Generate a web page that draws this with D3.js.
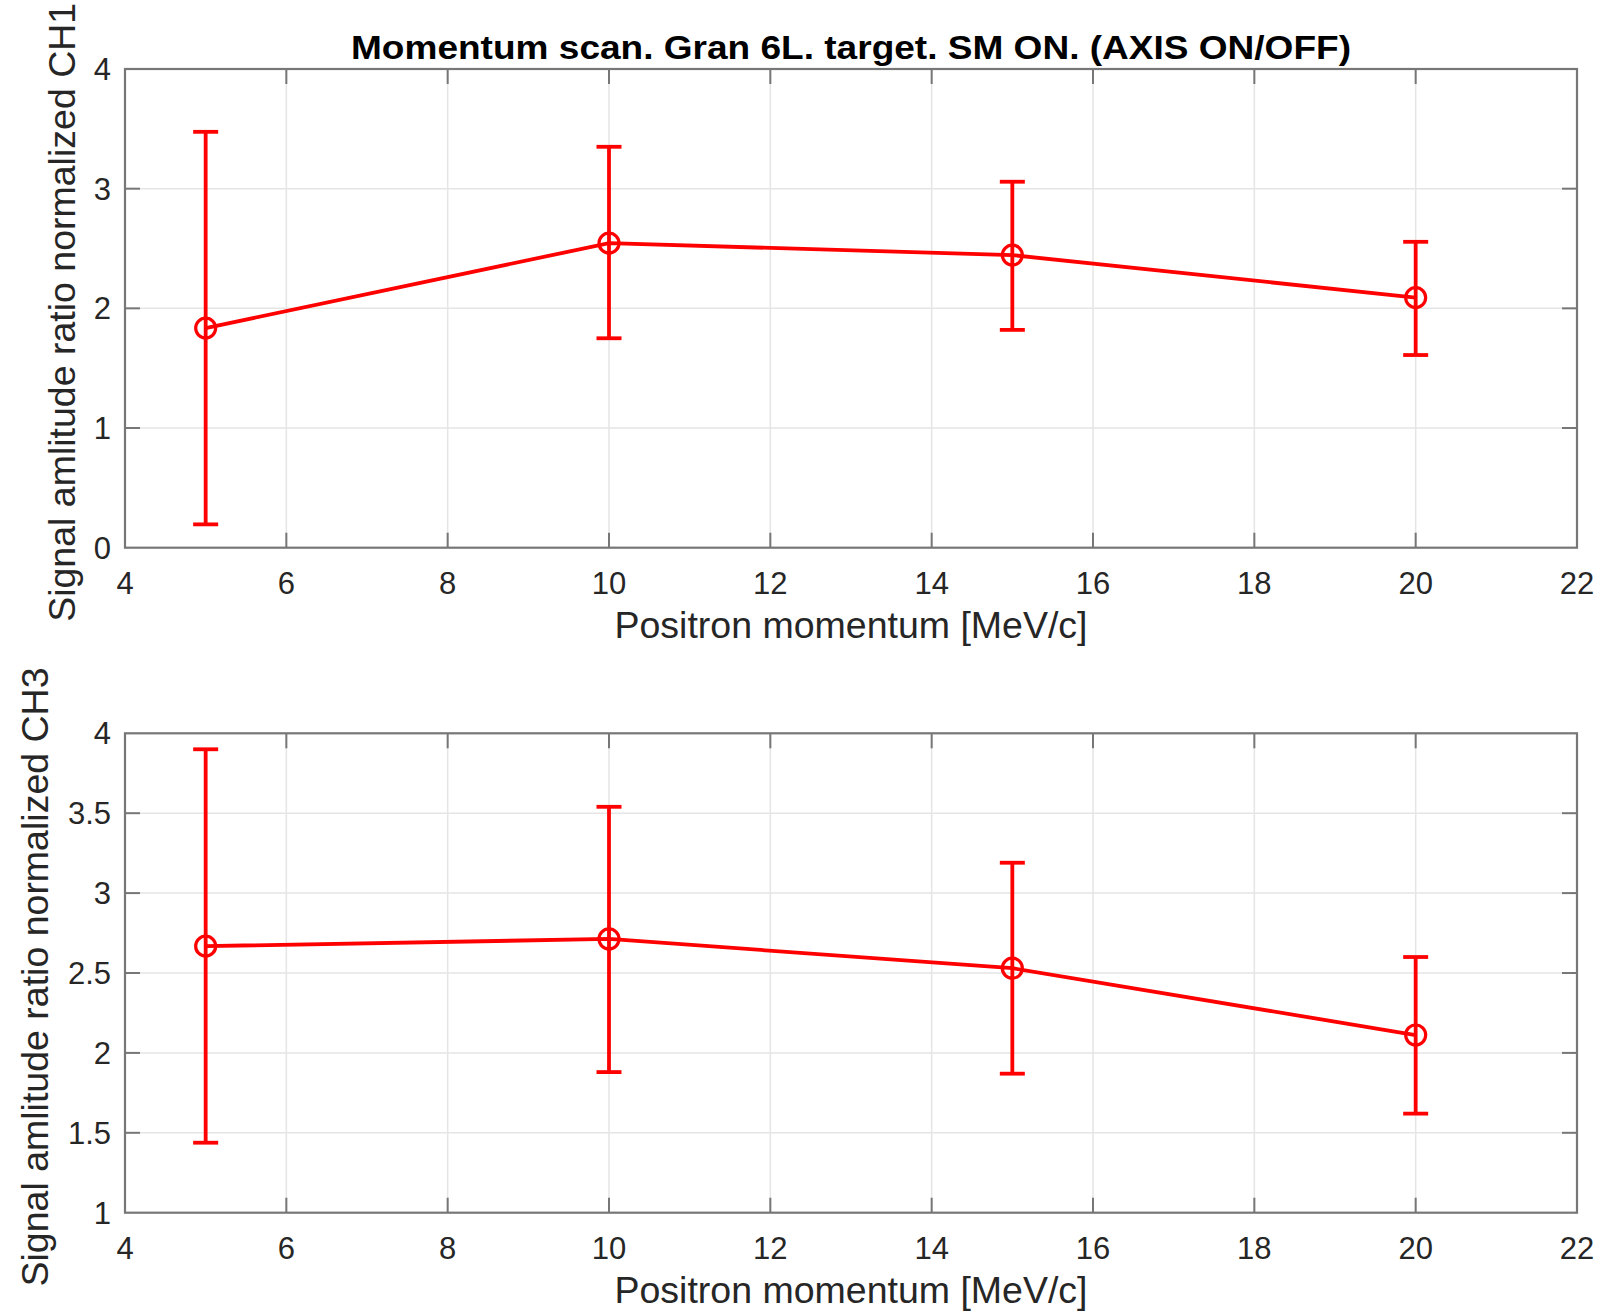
<!DOCTYPE html>
<html><head><meta charset="utf-8">
<script src="https://cdn.jsdelivr.net/npm/d3@7"></script>
<style>body{margin:0;background:#fff}</style>
</head><body>
<svg id="c" width="1602" height="1312"></svg>
<script>
const momentum = [5, 10, 15, 20];
const ch1Value = [1.835, 2.545, 2.445, 2.09];
const ch1Upper = [3.475, 3.35, 3.058, 2.556];
const ch1Lower = [0.195, 1.75, 1.82, 1.61];
const ch3Value = [2.668, 2.713, 2.53, 2.112];
const ch3Upper = [3.90, 3.54, 3.19, 2.60];
const ch3Lower = [1.438, 1.88, 1.87, 1.62];
const xTicks = [4, 6, 8, 10, 12, 14, 16, 18, 20, 22];
const yTicks1 = [0, 1, 2, 3, 4];
const yTicks3 = [1, 1.5, 2, 2.5, 3, 3.5, 4];
const titleText = "Momentum scan. Gran 6L. target. SM ON. (AXIS ON/OFF)";
const xLabel = "Positron momentum [MeV/c]";
const yLabel1 = "Signal amlitude ratio normalized CH1";
const yLabel3 = "Signal amlitude ratio normalized CH3";

const svg = d3.select("#c");
const font = "'Liberation Sans', Arial, Helvetica, sans-serif";
const axisCol = "#777777", textCol = "#262626", red = "#ff0000";

function panel(top, bottom, yDomain, yTicks, vals, up, lo, ylab, ylabX) {
  const left = 125, right = 1577;
  const x = d3.scaleLinear().domain([4, 22]).range([left, right]);
  const y = d3.scaleLinear().domain(yDomain).range([bottom, top]);
  const g = svg.append("g");
  g.selectAll(".gx").data(xTicks.slice(1, -1)).join("line")
    .attr("x1", d => x(d)).attr("x2", d => x(d)).attr("y1", top).attr("y2", bottom)
    .attr("stroke", "#e5e5e5").attr("stroke-width", 1.5);
  g.selectAll(".gy").data(yTicks.slice(1, -1)).join("line")
    .attr("x1", left).attr("x2", right).attr("y1", d => y(d)).attr("y2", d => y(d))
    .attr("stroke", "#e5e5e5").attr("stroke-width", 1.5);
  const tl = 15;
  xTicks.slice(1, -1).forEach(d => {
    g.append("line").attr("x1", x(d)).attr("x2", x(d)).attr("y1", bottom).attr("y2", bottom - tl).attr("stroke", axisCol).attr("stroke-width", 2);
    g.append("line").attr("x1", x(d)).attr("x2", x(d)).attr("y1", top).attr("y2", top + tl).attr("stroke", axisCol).attr("stroke-width", 2);
  });
  yTicks.slice(1, -1).forEach(d => {
    g.append("line").attr("x1", left).attr("x2", left + tl).attr("y1", y(d)).attr("y2", y(d)).attr("stroke", axisCol).attr("stroke-width", 2);
    g.append("line").attr("x1", right).attr("x2", right - tl).attr("y1", y(d)).attr("y2", y(d)).attr("stroke", axisCol).attr("stroke-width", 2);
  });
  g.append("rect").attr("x", left).attr("y", top).attr("width", right - left).attr("height", bottom - top)
    .attr("fill", "none").attr("stroke", axisCol).attr("stroke-width", 2.2);
  g.selectAll(".xl").data(xTicks).join("text")
    .attr("x", d => x(d)).attr("y", bottom + 46).attr("text-anchor", "middle")
    .attr("font-family", font).attr("font-size", 31).attr("fill", textCol).text(d => d);
  g.selectAll(".yl").data(yTicks).join("text")
    .attr("x", left - 14).attr("y", d => y(d) + 11).attr("text-anchor", "end")
    .attr("font-family", font).attr("font-size", 31).attr("fill", textCol).text(d => d);
  g.append("text").attr("x", (left + right) / 2).attr("y", bottom + 90).attr("text-anchor", "middle")
    .attr("font-family", font).attr("font-size", 37.5).attr("fill", textCol).text(xLabel);
  g.append("text").attr("transform", `translate(${ylabX},${(top + bottom) / 2 + 4}) rotate(-90)`)
    .attr("text-anchor", "middle").attr("font-family", font).attr("font-size", 37.5).attr("fill", textCol).text(ylab);
  const pts = momentum.map((m, i) => ({m, v: vals[i], u: up[i], l: lo[i]}));
  g.append("path").datum(pts)
    .attr("d", d3.line().x(d => x(d.m)).y(d => y(d.v)))
    .attr("fill", "none").attr("stroke", red).attr("stroke-width", 3.8);
  const cw = 12.5;
  pts.forEach(d => {
    g.append("line").attr("x1", x(d.m)).attr("x2", x(d.m)).attr("y1", y(d.u)).attr("y2", y(d.l)).attr("stroke", red).attr("stroke-width", 3.8);
    g.append("line").attr("x1", x(d.m) - cw).attr("x2", x(d.m) + cw).attr("y1", y(d.u)).attr("y2", y(d.u)).attr("stroke", red).attr("stroke-width", 3.8);
    g.append("line").attr("x1", x(d.m) - cw).attr("x2", x(d.m) + cw).attr("y1", y(d.l)).attr("y2", y(d.l)).attr("stroke", red).attr("stroke-width", 3.8);
    g.append("circle").attr("cx", x(d.m)).attr("cy", y(d.v)).attr("r", 10).attr("fill", "none").attr("stroke", red).attr("stroke-width", 3.2);
  });
}

panel(69, 547.7, [0, 4], yTicks1, ch1Value, ch1Upper, ch1Lower, yLabel1, 75);
panel(733.3, 1212.7, [1, 4], yTicks3, ch3Value, ch3Upper, ch3Lower, yLabel3, 48);

svg.append("text").attr("x", 851).attr("y", 59).attr("text-anchor", "middle")
  .attr("font-family", font).attr("font-weight", "bold").attr("font-size", 34).attr("fill", "#000")
  .attr("textLength", 1000).attr("lengthAdjust", "spacingAndGlyphs")
  .text(titleText);
</script>
</body></html>
